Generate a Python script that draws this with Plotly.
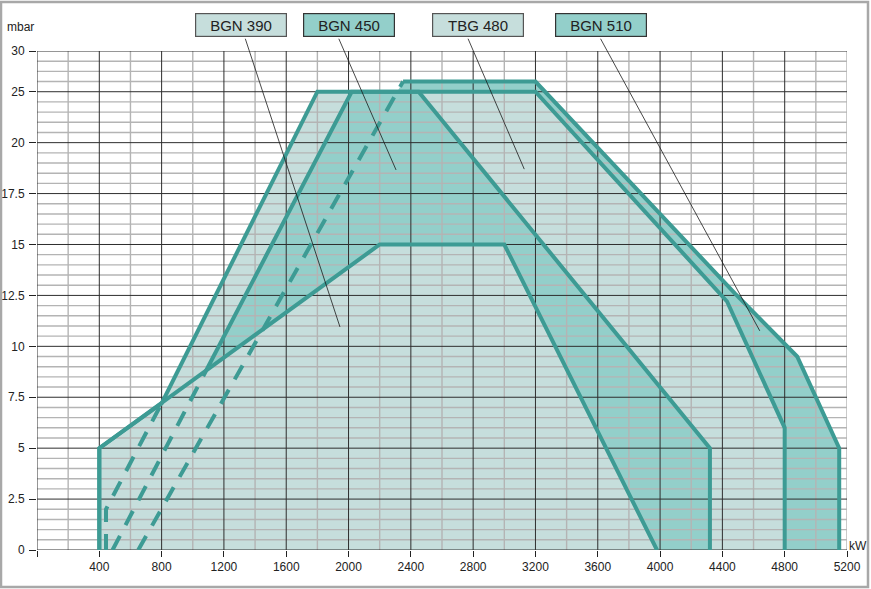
import plotly.graph_objects as go

# ---------------- data ----------------
x_tick_values = [0, 400, 800, 1200, 1600, 2000, 2400, 2800, 3200, 3600, 4000, 4400, 4800, 5200]
x_tick_labels = ["", "400", "800", "1200", "1600", "2000", "2400", "2800", "3200",
                 "3600", "4000", "4400", "4800", "5200"]
y_tick_values = [0, 2.5, 5, 7.5, 10, 12.5, 15, 17.5, 20, 25, 30]
y_tick_labels = ["0", "2.5", "5", "7.5", "10", "12.5", "15", "17.5", "20", "25", "30"]

# firing-range outlines (kW, mbar)
bgn390_kw = [400, 400, 2200, 3000, 3980]
bgn390_mbar = [0, 5, 15, 15, 0]

bgn450_kw = [485, 1085, 2020, 2450, 4320, 4320]
bgn450_mbar = [0, 8.8, 25, 25, 5, 0]

tbg480_kw = [400, 400, 800, 1800, 3200, 4430, 4800, 4800]
tbg480_mbar = [0, 5, 7.2, 25, 25, 12.2, 6, 0]

bgn510_kw = [650, 2350, 3200, 4480, 4880, 5150, 5150]
bgn510_mbar = [0, 26.25, 26.25, 12.6, 9.5, 5, 0]

alt_min_kw = [443, 443, 800]
alt_min_mbar = [0, 2, 7.2]

labels = ["BGN 390", "BGN 450", "TBG 480", "BGN 510"]
label_target_kw = [1945, 2305, 3128, 4640]
label_target_mbar = [10.95, 18.66, 18.7, 10.76]

# ---------------- styling ----------------
LINE = "#3d9b94"
LIGHT = "#c6dedc"
DARK = "#93cfca"
FONT = "Liberation Sans, Arial, sans-serif"
TXT = "#222222"


def g(v):
    """piecewise y scale of the original chart (0-20 fine, 20-25 and 25-30 compressed)"""
    if v <= 20:
        return 2 * v
    if v <= 25:
        return 40 + (v - 20)
    return 45 + (v - 25) * 0.8


def gl(vals):
    return [g(v) for v in vals]


fig = go.Figure()


def fill(xs, ys, color):
    fig.add_trace(go.Scatter(x=xs, y=gl(ys), fill="toself", fillcolor=color,
                             mode="lines", line=dict(width=0), hoverinfo="skip",
                             showlegend=False))


def outline(xs, ys, dash="solid"):
    fig.add_trace(go.Scatter(x=xs, y=gl(ys), mode="lines",
                             line=dict(color=LINE, width=4, dash=dash),
                             hoverinfo="skip", showlegend=False))


def grid_trace(xs, ys, color, width):
    fig.add_trace(go.Scatter(x=xs, y=ys, mode="lines", line=dict(color=color, width=width),
                             hoverinfo="skip", showlegend=False, connectgaps=False))


DASH = "16px,12px"

fill(bgn510_kw, bgn510_mbar, DARK)
fill(tbg480_kw, tbg480_mbar, LIGHT)
fill(bgn450_kw, bgn450_mbar, DARK)
fill(bgn390_kw, bgn390_mbar, LIGHT)

# ---------------- grid (above the fills, below the outlines) ----------------
y_major = set(gl(y_tick_values))
minx, miny, majx, majy = [], [], [], []
for gi in range(0, 50):
    if gi in y_major:
        majx += [0, 5200, None]; majy += [gi, gi, None]
    else:
        minx += [0, 5200, None]; miny += [gi, gi, None]
for xv in range(0, 5201, 200):
    if xv % 400 == 0 and xv != 5200:
        majx += [xv, xv, None]; majy += [0, 49, None]
    else:
        minx += [xv, xv, None]; miny += [0, 49, None]
grid_trace(minx, miny, "#b4b4b4", 1.4)
grid_trace(majx, majy, "#2e2e2e", 1)

outline(tbg480_kw, tbg480_mbar)
outline(bgn510_kw[:2], bgn510_mbar[:2], DASH)
outline(bgn510_kw[1:], bgn510_mbar[1:])
outline(bgn450_kw[:2], bgn450_mbar[:2], DASH)
outline(bgn450_kw[1:], bgn450_mbar[1:])
outline(bgn390_kw, bgn390_mbar)
outline(alt_min_kw, alt_min_mbar, DASH)

shapes = [dict(type="rect", xref="paper", yref="paper",
               x0=-36 / 810, x1=831 / 810, y0=-37 / 499, y1=548 / 499,
               line=dict(color="#a8a8a8", width=2.5), layer="above")]

annotations = []
# pointer lines
tail_kw = [1333, 1932, 2762, 3611]
for tk, tx, ty in zip(tail_kw, label_target_kw, label_target_mbar):
    annotations.append(dict(x=tx, y=g(ty), xref="x", yref="y", text=" ",
                            font=dict(size=1), showarrow=True, arrowhead=0,
                            arrowwidth=0.8, arrowcolor="#1a1a1a", standoff=0,
                            axref="x", ayref="y", ax=tk, ay=50.4))
# label boxes
box_x = [241, 349, 478, 601]
box_fill = [LIGHT, DARK, LIGHT, DARK]
box_border = ["#555555", "#333333", "#555555", "#333333"]
for lab, bx, bf, bb in zip(labels, box_x, box_fill, box_border):
    annotations.append(dict(x=(bx - 37) / 810, y=(550 - 25) / 499, xref="paper", yref="paper",
                            text=lab, showarrow=False, xanchor="center", yanchor="middle",
                            font=dict(family=FONT, size=15, color=TXT),
                            bgcolor=bf, bordercolor=bb, borderwidth=1.2, borderpad=0,
                            width=89.6, height=21.6))
# axis titles
annotations.append(dict(x=(5 - 37) / 810, y=(550 - 27) / 499, xref="paper", yref="paper",
                        text="mbar", showarrow=False, xanchor="left", yanchor="middle",
                        font=dict(family=FONT, size=12, color=TXT)))
annotations.append(dict(x=(847 - 37) / 810, y=(550 - 546) / 499, xref="paper", yref="paper",
                        text="kW", showarrow=False, xanchor="left", yanchor="middle",
                        font=dict(family=FONT, size=12, color=TXT)))

fig.update_layout(
    width=871, height=589, autosize=False,
    margin=dict(l=37, r=24, t=51, b=39, pad=0, autoexpand=False),
    paper_bgcolor="white", plot_bgcolor="white",
    showlegend=False,
    shapes=shapes, annotations=annotations,
    font=dict(family=FONT, size=12, color=TXT),
    xaxis=dict(range=[0, 5200], showgrid=False, zeroline=False, showline=False,
               automargin=False,
               tickmode="array", tickvals=x_tick_values, ticktext=x_tick_labels,
               ticks="outside", ticklen=6, tickwidth=1, tickcolor="#222",
               tickfont=dict(family=FONT, size=12, color=TXT), fixedrange=True),
    yaxis=dict(range=[0, 49], showgrid=False, zeroline=False, showline=False,
               automargin=False, ticklabelstandoff=2,
               tickmode="array", tickvals=gl(y_tick_values), ticktext=y_tick_labels,
               ticks="outside", ticklen=7, tickwidth=1, tickcolor="#222",
               tickfont=dict(family=FONT, size=12, color=TXT), fixedrange=True),
)

fig.write_html("out.html", config={"displayModeBar": False},
               post_script="document.body.style.margin='0px';document.body.style.overflow='hidden';")
